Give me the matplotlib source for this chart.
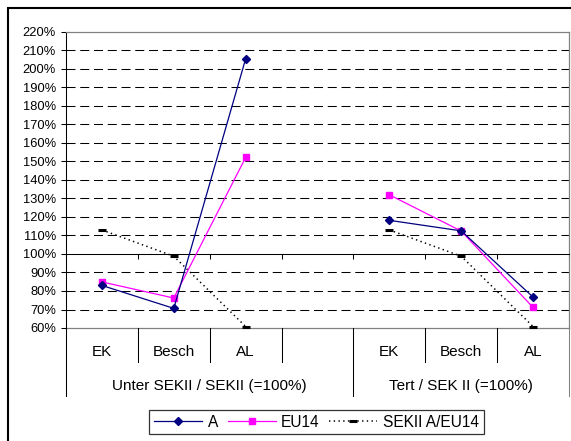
import numpy as np
import matplotlib
matplotlib.use('Agg')
import matplotlib.pyplot as plt
from matplotlib.patches import Rectangle

plt.rcParams['font.family'] = ['Liberation Sans', 'DejaVu Sans']
plt.rcParams['lines.scale_dashes'] = False

# ---------------- data ----------------
categories = ['EK', 'Besch', 'AL', '', 'EK', 'Besch', 'AL']
groups = ['Unter SEKII / SEKII (=100%)', 'Tert / SEK II (=100%)']
group_sizes = [4, 3]
series_A = [83.0, 70.6, 205.5, np.nan, 118.2, 112.5, 76.7]
series_EU14 = [84.9, 76.2, 152.2, np.nan, 132.0, 112.4, 71.1]
series_SEKII = [113.0, 98.8, 60.8, np.nan, 113.0, 98.8, 60.8]
series_names = ['A', 'EU14', 'SEKII A/EU14']
yticks = list(range(60, 230, 10))

# ---------------- figure ----------------
W, H = 571, 441
fig = plt.figure(figsize=(W / 100, H / 100), dpi=100)
fig.patch.set_facecolor('white')
ax = fig.add_axes([66 / W, 1 - 328 / H, (569 - 66) / W, (328 - 32) / H])

n = len(categories)
x = np.arange(n)
ax.set_xlim(-0.5, n - 0.5)
ax.set_ylim(yticks[0], yticks[-1])

grey = '#808080'
# grid lines (dashed), skipping borders and the 100% axis line
for v in yticks[1:-1]:
    if v == 100:
        continue
    ax.axhline(v, color='black', lw=0.75, ls=(0, (6.5, 3.4)), zorder=1)
ax.axhline(yticks[0], color=grey, lw=0.9, zorder=1, clip_on=False)

for s in ['top', 'right']:
    ax.spines[s].set_color(grey)
    ax.spines[s].set_linewidth(0.9)
ax.spines['left'].set_color('black')
ax.spines['left'].set_linewidth(0.75)
ax.spines['bottom'].set_position(('data', 100))
ax.spines['bottom'].set_color('black')
ax.spines['bottom'].set_linewidth(0.75)

ax.set_yticks(yticks)
ax.set_yticklabels([f'{v}%' for v in yticks])
ax.tick_params(axis='y', direction='out', length=3.6, width=0.75, pad=3.6,
               labelsize=9.3, colors='black')
boundaries = np.arange(n + 1) - 0.5
ax.set_xticks(boundaries)
ax.set_xticklabels([])
ax.tick_params(axis='x', direction='out', length=3.6, width=0.75)

# ---------------- series ----------------
lA, = ax.plot(x, series_A, color='#000080', lw=0.9, marker='D', ms=3.6,
              mfc='#000080', mec='#000080', zorder=4, label=series_names[0])
lE, = ax.plot(x, series_EU14, color='#FF00FF', lw=0.9, marker='s', ms=4.8,
              mfc='#FF00FF', mec='#FF00FF', zorder=3, label=series_names[1])
lS, = ax.plot(x, series_SEKII, color='black', lw=1.1, ls=(0, (1.0, 2.4)),
              marker='_', ms=6, mew=2.2, mec='black', zorder=2,
              label=series_names[2], clip_on=False)

# ---------------- multi-level category axis ----------------
tr = ax.get_xaxis_transform()
ph = (328 - 32)
short_y = -34 / ph
long_y = -68 / ph
cat_base = -28 / ph
grp_base = -62 / ph

group_edges = np.cumsum([0] + group_sizes) - 0.5
for b in boundaries:
    is_long = np.any(np.isclose(b, group_edges))
    col = grey if np.isclose(b, boundaries[-1]) else 'black'
    ax.plot([b, b], [0, long_y if is_long else short_y], transform=tr,
            color=col, lw=0.75, clip_on=False, zorder=5)

for xi, c in zip(x, categories):
    ax.text(xi, cat_base, c, transform=tr, ha='center', va='baseline',
            fontsize=11)

for g, start, size in zip(groups, group_edges[:-1], group_sizes):
    ax.text(start + size / 2, grp_base, g, transform=tr, ha='center',
            va='baseline', fontsize=11)

# ---------------- legend ----------------
leg = fig.legend(handles=[lA, lE, lS], loc='upper center',
                 bbox_to_anchor=(316.5 / W, 1 - 410 / H), ncol=3,
                 fontsize=11.2, frameon=True, fancybox=False,
                 handlelength=3.1, handletextpad=0.35, columnspacing=0.6,
                 borderpad=0.3, borderaxespad=0)
leg.get_frame().set_edgecolor('black')
leg.get_frame().set_linewidth(0.9)

# ---------------- outer chart frame ----------------
fig.patches.append(Rectangle((8 / W, -0.2), 1.5, 1.2 - 8 / H,
                             transform=fig.transFigure, fill=False,
                             edgecolor='black', lw=1.5, zorder=0))

fig.savefig('out.png', dpi=100, facecolor='white')
